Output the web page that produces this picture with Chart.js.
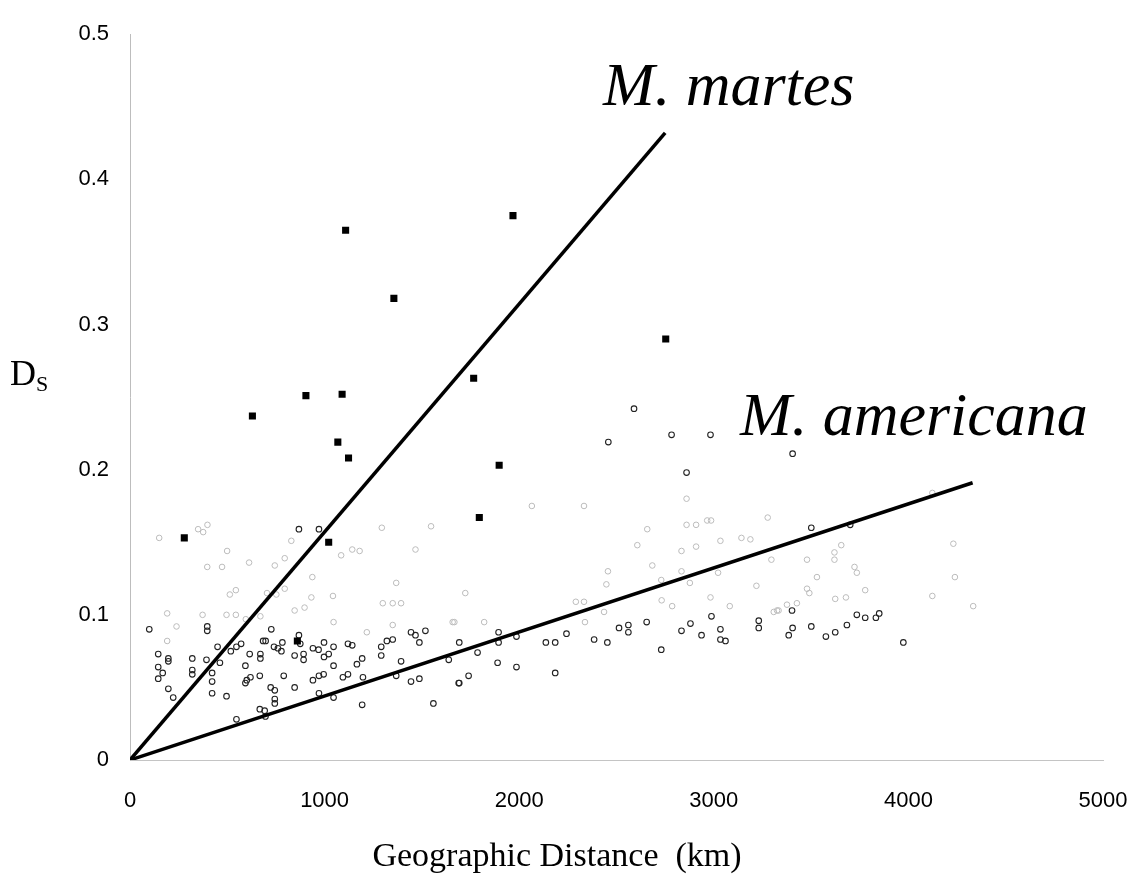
<!DOCTYPE html>
<html>
<head>
<meta charset="utf-8">
<script src="https://cdn.jsdelivr.net/npm/chart.js@4/dist/chart.umd.min.js"></script>
<style>
  body { margin: 0; background: #fff; }
  #wrap { width: 1140px; height: 882px; }
</style>
</head>
<body>
<div id="wrap"><canvas id="chart" width="1140" height="882"></canvas></div>
<script>
// tick labels
var xTicks = [0, 1000, 2000, 3000, 4000, 5000];
var yTicks = [0, 0.1, 0.2, 0.3, 0.4, 0.5];

// M. martes pairs (filled squares)
var martesX = [1108, 1968, 1356, 2753, 1766, 904, 1090, 629, 1068, 1123, 1897, 1795, 279, 1021, 860];
var martesY = [0.365, 0.375, 0.318, 0.290, 0.263, 0.251, 0.252, 0.237, 0.219, 0.208, 0.203, 0.167, 0.153, 0.150, 0.082];

// M. americana pairs (open circles, clearly printed)
var americanaX = [99, 397, 397, 145, 197, 197, 320, 393, 450, 462, 518, 547, 571, 145, 168, 145, 320, 320, 422, 422,
  197, 222, 422, 496, 615, 670, 670, 593, 593, 600, 619, 667, 723, 744, 744, 744, 790, 846, 726, 667,
  692, 696, 547, 783, 778, 740, 760, 684, 697, 846, 868, 971, 868, 940, 969, 997, 1046, 1021, 997, 892,
  892, 1120, 1142, 1046, 971, 995, 940, 1094, 1120, 1197, 1166, 1193, 1291, 1291, 1320, 1350, 1393, 1444, 1467, 1518,
  1487, 1368, 1444, 1487, 1638, 1689, 1193, 1559, 1046, 971, 875, 1786, 1692, 1894, 1894, 1986, 1889, 1986, 1740, 1692,
  2185, 2137, 2185, 2243, 2385, 2453, 2590, 2458, 2783, 2983, 2860, 2988, 3231, 3231, 2561, 2561, 2513, 2655, 2834, 2880,
  2937, 3034, 3034, 3060, 2730, 3405, 3501, 3701, 3402, 3735, 3778, 3833, 3850, 3501, 3405, 3385, 3624, 3576, 3684, 3974];
var americanaY = [0.090, 0.092, 0.089, 0.073, 0.070, 0.068, 0.070, 0.069, 0.078, 0.067, 0.075, 0.078, 0.080, 0.064, 0.060, 0.056, 0.062, 0.059, 0.060, 0.054,
  0.049, 0.043, 0.046, 0.044, 0.073, 0.073, 0.070, 0.065, 0.053, 0.055, 0.057, 0.058, 0.050, 0.048, 0.042, 0.039, 0.058, 0.050, 0.090, 0.035,
  0.034, 0.030, 0.028, 0.081, 0.075, 0.078, 0.077, 0.082, 0.082, 0.072, 0.086, 0.159, 0.159, 0.077, 0.076, 0.081, 0.078, 0.073, 0.071, 0.073,
  0.069, 0.080, 0.079, 0.065, 0.058, 0.059, 0.055, 0.057, 0.059, 0.057, 0.066, 0.070, 0.078, 0.072, 0.082, 0.083, 0.068, 0.088, 0.086, 0.089,
  0.081, 0.058, 0.054, 0.056, 0.069, 0.053, 0.038, 0.039, 0.043, 0.046, 0.080, 0.074, 0.081, 0.088, 0.081, 0.085, 0.067, 0.064, 0.058, 0.053,
  0.060, 0.081, 0.081, 0.087, 0.083, 0.081, 0.242, 0.219, 0.224, 0.224, 0.198, 0.099, 0.096, 0.091, 0.093, 0.088, 0.091, 0.095, 0.089, 0.094,
  0.086, 0.090, 0.083, 0.082, 0.076, 0.211, 0.160, 0.162, 0.103, 0.100, 0.098, 0.098, 0.101, 0.092, 0.091, 0.086, 0.088, 0.085, 0.093, 0.081];

// M. americana pairs printed faintly
var faintX = [150, 350, 376, 398, 499, 397, 473, 612, 744, 795, 829, 544, 513, 704, 752, 795, 937, 932, 1043, 846,
  897, 191, 373, 496, 544, 595, 670, 1046, 239, 191, 1142, 1180, 1085, 1294, 1547, 1467, 1368, 1299, 1350, 1393,
  1350, 1217, 1658, 1723, 1667, 1820, 2860, 2065, 2333, 2658, 2448, 2338, 2834, 2909, 2607, 2684, 2834, 2877, 3022, 3296,
  3219, 2456, 2730, 3082, 2983, 2436, 2291, 2333, 2732, 2786, 3376, 3308, 3333, 3277, 3142, 3188, 3034, 2860, 2909, 2966,
  2986, 4123, 4231, 4239, 4333, 4123, 3655, 3620, 3620, 3479, 3530, 3723, 3735, 3479, 3491, 3778, 3624, 3679, 3427, 3325];
var faintY = [0.153, 0.159, 0.157, 0.162, 0.144, 0.133, 0.133, 0.136, 0.134, 0.139, 0.151, 0.117, 0.114, 0.115, 0.114, 0.118, 0.126, 0.112, 0.113, 0.103,
  0.105, 0.101, 0.100, 0.100, 0.100, 0.097, 0.099, 0.095, 0.092, 0.082, 0.145, 0.144, 0.141, 0.160, 0.161, 0.145, 0.122, 0.108, 0.108, 0.108,
  0.093, 0.088, 0.095, 0.115, 0.095, 0.095, 0.180, 0.175, 0.175, 0.159, 0.121, 0.095, 0.144, 0.147, 0.148, 0.134, 0.130, 0.122, 0.129, 0.138,
  0.120, 0.130, 0.124, 0.106, 0.112, 0.102, 0.109, 0.109, 0.110, 0.106, 0.107, 0.102, 0.103, 0.167, 0.153, 0.152, 0.151, 0.162, 0.162, 0.165,
  0.165, 0.184, 0.149, 0.126, 0.106, 0.113, 0.148, 0.143, 0.138, 0.138, 0.126, 0.133, 0.129, 0.118, 0.115, 0.117, 0.111, 0.112, 0.108, 0.103];

// regression lines (end points)
var martesFitX = [0, 2750];
var martesFitY = [0, 0.432];
var americanaFitX = [0, 4330];
var americanaFitY = [0, 0.191];

var toPoints = function(xs, ys) {
  return xs.map(function(x, i) { return { x: x, y: ys[i] }; });
};

// text that is not part of chart.js's own layout
var labelsPlugin = {
  id: 'labels',
  afterDraw: function(chart) {
    var ctx = chart.ctx;
    ctx.save();
    ctx.fillStyle = '#000';
    ctx.textBaseline = 'alphabetic';
    ctx.textAlign = 'left';
    ctx.font = 'italic 62px "Liberation Serif", "Times New Roman", serif';
    ctx.fillText('M. martes', 603, 105);
    ctx.fillText('M. americana', 740, 435);
    // y title D with subscript S
    ctx.font = '36px "Liberation Serif", "Times New Roman", serif';
    ctx.fillText('D', 10, 385);
    ctx.font = '22px "Liberation Serif", "Times New Roman", serif';
    ctx.fillText('S', 36, 391);
    // x title
    ctx.textAlign = 'center';
    ctx.font = '34px "Liberation Serif", "Times New Roman", serif';
    ctx.fillText('Geographic Distance  (km)', 557, 866);
    ctx.restore();
  }
};

var ctx = document.getElementById('chart').getContext('2d');
var chart = new Chart(ctx, {
  type: 'scatter',
  data: {
    datasets: [
      {
        type: 'line', label: 'M. martes fit', data: toPoints(martesFitX, martesFitY),
        borderColor: '#000', borderWidth: 3.5, pointRadius: 0, fill: false, order: 0
      },
      {
        type: 'line', label: 'M. americana fit', data: toPoints(americanaFitX, americanaFitY),
        borderColor: '#000', borderWidth: 3.5, pointRadius: 0, fill: false, order: 0
      },
      {
        label: 'faint', data: toPoints(faintX, faintY),
        pointStyle: 'circle', pointRadius: 2.8, borderWidth: 1,
        borderColor: '#bcbcbc', backgroundColor: 'rgba(0,0,0,0)', order: 3
      },
      {
        label: 'M. americana', data: toPoints(americanaX, americanaY),
        pointStyle: 'circle', pointRadius: 2.8, borderWidth: 1.1,
        borderColor: '#222', backgroundColor: 'rgba(0,0,0,0)', order: 2
      },
      {
        label: 'M. martes', data: toPoints(martesX, martesY),
        pointStyle: 'rect', pointRadius: 5, borderWidth: 0,
        backgroundColor: '#000', order: 1
      }
    ]
  },
  options: {
    responsive: false,
    animation: false,
    layout: { padding: { left: 0, top: 20, right: 37, bottom: 0 } },
    plugins: { legend: { display: false }, tooltip: { enabled: false } },
    scales: {
      x: {
        type: 'linear', min: 0, max: 5000,
        afterBuildTicks: function(scale) { scale.ticks = xTicks.map(function(v) { return { value: v }; }); },
        afterFit: function(scale) {
          scale.height = 122;
          scale.paddingRight = 0;
          scale.paddingLeft = 0;
        },
        grid: { display: false, drawTicks: false },
        border: { display: true, color: '#c4c4c4', width: 1, dash: [2, 3] },
        ticks: {
          padding: 28, color: '#000', maxRotation: 0,
          font: { family: '"Liberation Sans", Arial, sans-serif', size: 22 },
          callback: function(v) { return String(v); }
        }
      },
      y: {
        type: 'linear', min: 0, max: 0.5,
        afterBuildTicks: function(scale) { scale.ticks = yTicks.map(function(v) { return { value: v }; }); },
        afterFit: function(scale) { scale.width = 130; },
        grid: { display: false, drawTicks: false },
        border: { display: true, color: '#bdbdbd', width: 1, dash: [8, 2] },
        ticks: {
          padding: 21, color: '#000',
          font: { family: '"Liberation Sans", Arial, sans-serif', size: 22 },
          callback: function(v) { return String(+v.toFixed(1)); }
        }
      }
    }
  },
  plugins: [labelsPlugin]
});
</script>
</body>
</html>
